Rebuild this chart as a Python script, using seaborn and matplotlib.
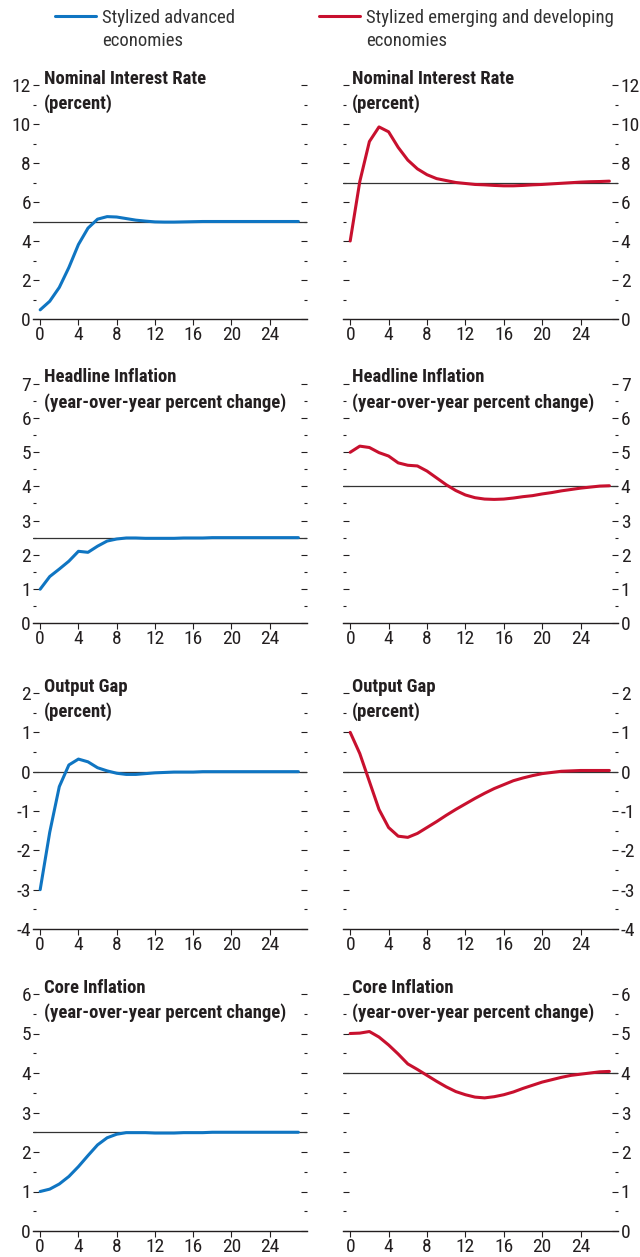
import matplotlib
matplotlib.use("Agg")
import matplotlib.pyplot as plt
from matplotlib import font_manager
from matplotlib.ticker import MultipleLocator
import pandas as pd
import seaborn as sns

periods = list(range(28))

# stylized advanced economies
ae_rate = [0.47, 0.91, 1.62, 2.64, 3.82, 4.66, 5.12, 5.25, 5.23, 5.15, 5.07, 5.02, 4.98, 4.97,
           4.97, 4.98, 4.99, 5.0, 5.0, 5.0, 5.0, 5.0, 5.0, 5.0, 5.0, 5.0, 5.0, 5.0]
ae_headline = [0.99, 1.36, 1.58, 1.81, 2.10, 2.07, 2.25, 2.40, 2.46, 2.49, 2.49, 2.48, 2.48, 2.48,
               2.48, 2.49, 2.49, 2.49, 2.5, 2.5, 2.5, 2.5, 2.5, 2.5, 2.5, 2.5, 2.5, 2.5]
ae_gap = [-3.0, -1.54, -0.38, 0.17, 0.32, 0.25, 0.10, 0.02, -0.04, -0.07, -0.07, -0.05, -0.03, -0.02,
          -0.01, -0.01, -0.01, 0, 0, 0, 0, 0, 0, 0, 0, 0, 0, 0]
ae_core = [1.0, 1.06, 1.19, 1.38, 1.63, 1.91, 2.18, 2.36, 2.45, 2.49, 2.49, 2.49, 2.48, 2.48,
           2.48, 2.49, 2.49, 2.49, 2.5, 2.5, 2.5, 2.5, 2.5, 2.5, 2.5, 2.5, 2.5, 2.5]

# stylized emerging and developing economies
em_rate = [4.0, 7.05, 9.1, 9.85, 9.6, 8.8, 8.15, 7.7, 7.4, 7.2, 7.1, 7.0, 6.95, 6.9,
           6.88, 6.85, 6.83, 6.83, 6.85, 6.88, 6.9, 6.93, 6.96, 6.99, 7.02, 7.04, 7.05, 7.07]
em_headline = [5.0, 5.18, 5.14, 4.99, 4.89, 4.69, 4.62, 4.60, 4.45, 4.25, 4.05, 3.88, 3.75, 3.67,
               3.63, 3.62, 3.63, 3.66, 3.70, 3.73, 3.78, 3.82, 3.87, 3.91, 3.95, 3.98, 4.01, 4.02]
em_gap = [1.0, 0.46, -0.25, -0.96, -1.42, -1.64, -1.67, -1.57, -1.42, -1.27, -1.11, -0.96, -0.82, -0.68,
          -0.55, -0.43, -0.33, -0.23, -0.16, -0.10, -0.05, -0.02, 0.01, 0.02, 0.03, 0.03, 0.03, 0.03]
em_core = [5.0, 5.01, 5.05, 4.91, 4.71, 4.48, 4.23, 4.09, 3.94, 3.79, 3.65, 3.53, 3.45, 3.39,
           3.37, 3.40, 3.45, 3.52, 3.61, 3.69, 3.77, 3.83, 3.89, 3.94, 3.97, 4.0, 4.03, 4.04]

ae_steady = [5, 2.5, 0, 2.5]
em_steady = [7, 4, 0, 4]

titles = ["Nominal Interest Rate\n(percent)",
          "Headline Inflation\n(year-over-year percent change)",
          "Output Gap\n(percent)",
          "Core Inflation\n(year-over-year percent change)"]
y_limits = [(0, 12), (0, 7), (-4, 2), (0, 6)]
y_major = [2, 1, 1, 1]
y_minor = [1, 0.5, 0.5, 0.5]
x_ticks = [0, 4, 8, 12, 16, 20, 24]
legend_labels = ["Stylized advanced\neconomies", "Stylized emerging and developing\neconomies"]

blue = "#0f75c2"
red = "#c8102e"
ink = "#231f20"

sns.set_style("ticks")

# the original is set in a narrow grotesque; use a condensed face if one is installed
fm = font_manager.fontManager
names = {f.name for f in fm.ttflist}
narrow = None
for cand in ["Liberation Sans Narrow", "Arial Narrow", "Roboto Condensed",
             "Open Sans Condensed", "Noto Sans Condensed", "DejaVu Sans Condensed"]:
    if cand in names:
        narrow = cand
        break
stretch = "normal"
if narrow is None:
    for f in fm.ttflist:
        if f.name in ("Noto Sans", "DejaVu Sans", "Open Sans", "Roboto") and \
                str(f.stretch) in ("condensed", "semi-condensed"):
            narrow, stretch = f.name, f.stretch
            break
if narrow is None:
    narrow = "Liberation Sans"

plt.rcParams["font.family"] = [narrow, "Liberation Sans", "DejaVu Sans"]
plt.rcParams["font.stretch"] = stretch
plt.rcParams["axes.unicode_minus"] = False
plt.rcParams["text.color"] = ink
plt.rcParams["xtick.color"] = ink
plt.rcParams["ytick.color"] = ink

is_narrow = narrow != "Liberation Sans"
tick_fs = 14 if is_narrow else 12.5
title_fs = 13.4 if is_narrow else 11.5
legend_fs = 13.5 if is_narrow else 12

fig = plt.figure(figsize=(6.4, 12.57), dpi=100)

# panel boxes in figure pixels (top, bottom) and (left, right)
rows_px = [(85, 319), (384, 623), (693, 929), (994, 1231)]
cols_px = [(33, 307), (343, 618)]
W, H = 640, 1257

series = [[ae_rate, ae_headline, ae_gap, ae_core], [em_rate, em_headline, em_gap, em_core]]
steady = [ae_steady, em_steady]
colors = [blue, red]
title_x = [0.04, 0.033]

first_lines = []
for r in range(4):
    top, bot = rows_px[r]
    for c in range(2):
        left, right = cols_px[c]
        ax = fig.add_axes([left / W, 1 - bot / H, (right - left) / W, (bot - top) / H])
        df = pd.DataFrame({"period": periods, "value": series[c][r]})
        ax.axhline(steady[c][r], color="#333333", lw=0.9, zorder=1)
        sns.lineplot(data=df, x="period", y="value", color=colors[c], lw=2.2,
                     legend=False, ax=ax, zorder=3)
        if r == 0:
            first_lines.append(ax.lines[-1])

        ax.set_xlim(-0.75, 27.9)
        ax.set_ylim(*y_limits[r])
        ax.set_xticks(x_ticks)
        ax.yaxis.set_major_locator(MultipleLocator(y_major[r]))
        ax.yaxis.set_minor_locator(MultipleLocator(y_minor[r]))
        ax.set_xlabel("")
        ax.set_ylabel("")

        for s in ["top", "left", "right"]:
            ax.spines[s].set_visible(False)
        ax.spines["bottom"].set_color(ink)
        ax.spines["bottom"].set_linewidth(1.0)

        ax.tick_params(axis="x", direction="out", length=4.5, width=0.8, pad=0.5, labelsize=tick_fs)
        ax.tick_params(axis="y", which="both", direction="in", left=True, right=True,
                       labelleft=(c == 0), labelright=(c == 1), width=0.8, labelsize=tick_fs)
        ax.tick_params(axis="y", which="major", length=4.5, pad=1.5 if c == 0 else 2)
        ax.tick_params(axis="y", which="minor", length=2.5)

        ax.text(title_x[c], 1.065, titles[r], transform=ax.transAxes, ha="left", va="top",
                fontsize=title_fs, fontweight="bold", linespacing=1.45, color=ink)

# one legend per column, key level with the first line of the label
for handle, label, x0 in zip(first_lines, legend_labels, [55, 319]):
    leg = fig.legend([handle], [label], loc="upper left", bbox_to_anchor=(x0 / W, 1 - 9 / H),
                     frameon=False, fontsize=legend_fs, handlelength=2.2, handletextpad=0.3,
                     borderpad=0, borderaxespad=0)
    for t in leg.get_texts():
        t.set_color("#333333")
        t.set_linespacing(1.35)
    for col in leg._legend_handle_box.get_children():
        for entry in col.get_children():
            entry.align = "top"

fig.savefig("out.png", dpi=100)
